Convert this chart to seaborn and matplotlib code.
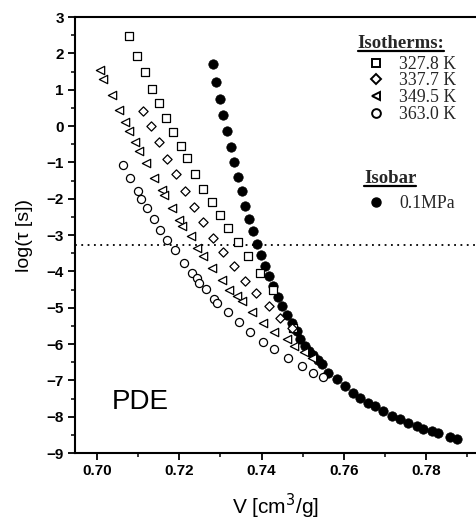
import matplotlib
matplotlib.use("Agg")
import numpy as np
import matplotlib.pyplot as plt
import seaborn as sns
from matplotlib.lines import Line2D
from matplotlib.ticker import MultipleLocator

# 数据
sq_V = [0.7078, 0.7098, 0.7117, 0.7134, 0.7150, 0.7168, 0.7186, 0.7204, 0.7218, 0.7238,
        0.7259, 0.7279, 0.7299, 0.7319, 0.7344, 0.7366, 0.7396, 0.7429, 0.7477]
sq_y = [2.48, 1.93, 1.48, 1.03, 0.63, 0.23, -0.17, -0.56, -0.87, -1.31,
        -1.73, -2.09, -2.44, -2.82, -3.20, -3.57, -4.04, -4.50, -5.55]

dm_V = [0.7113, 0.7131, 0.7150, 0.7171, 0.7192, 0.7214, 0.7236, 0.7259, 0.7283, 0.7307,
        0.7332, 0.7360, 0.7386, 0.7417, 0.7445, 0.7475]
dm_y = [0.40, -0.01, -0.43, -0.91, -1.31, -1.79, -2.23, -2.65, -3.07, -3.47,
        -3.86, -4.27, -4.60, -4.96, -5.29, -5.55]

tr_V = [0.7008, 0.7016, 0.7036, 0.7054, 0.7069, 0.7079, 0.7093, 0.7103, 0.7120, 0.7139,
        0.7158, 0.7163, 0.7182, 0.7200, 0.7208, 0.7228, 0.7243, 0.7259, 0.7279, 0.7303,
        0.7322, 0.7340, 0.7352, 0.7376, 0.7404, 0.7431, 0.7461, 0.7480, 0.7502, 0.7522]
tr_y = [1.54, 1.29, 0.84, 0.45, 0.12, -0.15, -0.45, -0.70, -1.02, -1.43,
        -1.75, -1.89, -2.26, -2.58, -2.76, -3.04, -3.35, -3.57, -3.90, -4.23,
        -4.50, -4.68, -4.82, -5.13, -5.41, -5.67, -5.87, -6.06, -6.22, -6.38]

ci_V = [0.7063, 0.7081, 0.7100, 0.7107, 0.7123, 0.7138, 0.7154, 0.7171, 0.7190, 0.7212,
        0.7231, 0.7243, 0.7249, 0.7265, 0.7285, 0.7293, 0.7318, 0.7346, 0.7372, 0.7404,
        0.7431, 0.7465, 0.7498, 0.7526, 0.7550]
ci_y = [-1.08, -1.43, -1.80, -2.00, -2.26, -2.55, -2.85, -3.13, -3.42, -3.77,
        -4.04, -4.18, -4.32, -4.48, -4.75, -4.87, -5.12, -5.40, -5.66, -5.95,
        -6.15, -6.38, -6.60, -6.79, -6.91]

ib_V = [0.7282, 0.7290, 0.7299, 0.7307, 0.7317, 0.7327, 0.7333, 0.7344, 0.7353, 0.7361,
        0.7370, 0.7380, 0.7390, 0.7398, 0.7409, 0.7419, 0.7429, 0.7439, 0.7449, 0.7461,
        0.7473, 0.7485, 0.7493, 0.7506, 0.7516, 0.7526, 0.7536, 0.7546, 0.7562, 0.7583,
        0.7603, 0.7623, 0.7639, 0.7659, 0.7676, 0.7696, 0.7716, 0.7736, 0.7756, 0.7777,
        0.7793, 0.7813, 0.7829, 0.7857, 0.7875]
ib_y = [1.71, 1.22, 0.75, 0.31, -0.15, -0.58, -1.00, -1.40, -1.80, -2.19,
        -2.56, -2.90, -3.24, -3.56, -3.84, -4.13, -4.41, -4.70, -4.96, -5.19,
        -5.41, -5.65, -5.87, -6.06, -6.18, -6.29, -6.43, -6.56, -6.79, -6.97,
        -7.16, -7.34, -7.48, -7.61, -7.71, -7.84, -7.98, -8.07, -8.18, -8.26,
        -8.33, -8.39, -8.46, -8.55, -8.62]

iso_labels = ["327.8 K", "337.7 K", "349.5 K", "363.0 K"]
isobar_label = "0.1MPa"
ref_level = -3.27   # 虚线位置

sns.set_theme(style="ticks")
plt.rcParams['font.family'] = ['Liberation Sans', 'DejaVu Sans']

fig = plt.figure(figsize=(4.76, 5.2), dpi=100)
ax = fig.add_axes([0.1576, 0.1288, 0.8424, 0.8385])

# 等压线 (实心圆)
sns.scatterplot(x=ib_V, y=ib_y, ax=ax, marker='o', s=46, color='black',
                edgecolor='black', linewidth=0.5, zorder=2)

# 等温线 (空心符号)
series = [(sq_V, sq_y, 's', 30), (dm_V, dm_y, 'D', 22),
          (tr_V, tr_y, '<', 36), (ci_V, ci_y, 'o', 34)]
for V, y, m, s in series:
    sns.scatterplot(x=V, y=y, ax=ax, marker=m, s=s, facecolor='white',
                    edgecolor='black', linewidth=0.9, zorder=3)

ax.axhline(ref_level, color='black', ls=(0, (1, 2.5)), lw=1.3, zorder=1)

ax.set_xlim(0.6947, 0.7921)
ax.set_ylim(-9, 3)
ax.xaxis.set_major_locator(MultipleLocator(0.02))
ax.xaxis.set_minor_locator(MultipleLocator(0.01))
ax.yaxis.set_major_locator(MultipleLocator(1))
ax.yaxis.set_minor_locator(MultipleLocator(0.5))
ax.set_xticklabels([f"{v:.2f}" for v in ax.get_xticks()])

for sp in ['left', 'bottom', 'top']:
    ax.spines[sp].set_linewidth(1.5)
    ax.spines[sp].set_color('black')
ax.spines['right'].set_visible(False)
ax.tick_params(which='major', length=5, width=1.3, color='black',
               labelsize=11, labelcolor='black', pad=3)
ax.tick_params(which='minor', length=3, width=1.1, color='black')
for lab in ax.get_xticklabels() + ax.get_yticklabels():
    lab.set_fontweight('bold')

ax.set_xlabel("V [cm$^3$/g]", fontsize=15, color='black', labelpad=10)
ax.set_ylabel("log(τ [s])", fontsize=14, color='black', labelpad=10)

ax.text(0.092, 0.118, "PDE", transform=ax.transAxes, fontsize=20,
        color='black', va='center', ha='left')

# 图例
serif = 'Liberation Serif'
iso_handles = [Line2D([], [], ls='none', marker=m, mfc='white', mec='black',
                      mew=1.4, ms=6.3 if m != 'D' else 5.0) for _, _, m, _ in series]
leg1 = ax.legend(iso_handles, iso_labels, loc='upper left',
                 bbox_to_anchor=(0.7237, 0.911), frameon=False,
                 prop={'family': serif, 'size': 12.8}, handlelength=1.2,
                 handletextpad=0.7, labelspacing=-0.02, borderpad=0, borderaxespad=0)
ax.add_artist(leg1)
ib_handle = [Line2D([], [], ls='none', marker='o', mfc='black', mec='black', ms=6.5)]
leg2 = ax.legend(ib_handle, [isobar_label], loc='upper left',
                 bbox_to_anchor=(0.7237, 0.592), frameon=False,
                 prop={'family': serif, 'size': 12.8}, handlelength=1.2,
                 handletextpad=0.7, borderpad=0, borderaxespad=0)

t1 = ax.text(0.813, 0.940, "Isotherms:", transform=ax.transAxes, ha='center',
             va='center', family=serif, fontweight='bold', fontsize=13.5)
t2 = ax.text(0.786, 0.630, "Isobar", transform=ax.transAxes, ha='center',
             va='center', family=serif, fontweight='bold', fontsize=13.5)

# 标题下划线
fig.canvas.draw()
inv = fig.transFigure.inverted()
for t in (t1, t2):
    bb = t.get_window_extent()
    (x0, y0), (x1, _) = inv.transform([(bb.x0, bb.y0), (bb.x1, bb.y1)])
    fig.add_artist(Line2D([x0, x1], [y0 + 0.001, y0 + 0.001], color='black',
                          lw=1.6, transform=fig.transFigure))

fig.savefig("out.png", dpi=100)
